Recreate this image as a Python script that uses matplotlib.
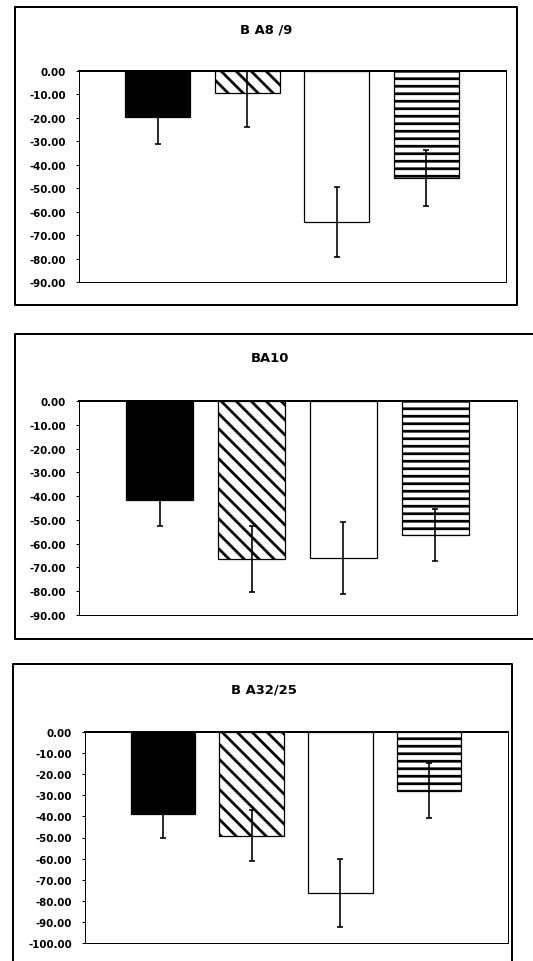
import matplotlib
matplotlib.use("Agg")
import matplotlib.pyplot as plt
from matplotlib.lines import Line2D

# dados (variação percentual por região)
titulos = ["B A8 /9", "BA10", "B A32/25"]
grupos = ["G1", "G2", "G3", "G4"]
ba8_9 = [-19.8, -9.4, -64.3, -45.6]
ba8_9_err = [11.4, 14.6, 15.0, 12.1]
ba10 = [-41.7, -66.5, -66.1, -56.3]
ba10_err = [10.8, 14.0, 15.1, 10.9]
ba32_25 = [-38.9, -49.1, -76.2, -27.9]
ba32_25_err = [11.5, 12.0, 16.0, 13.0]
y_min = [-90, -90, -100]

W, H = 533, 962
DPI = 90
plt.rcParams['hatch.linewidth'] = 2.2
plt.rcParams['font.family'] = ['DejaVu Sans']

fig = plt.figure(figsize=(W / DPI, H / DPI), dpi=DPI)
fig.patch.set_facecolor('white')


def caixa_px(l, t, r, b):
    return [l / W, 1 - b / H, (r - l) / W, (b - t) / H]


def linha_px(xs, ys, lw=1.6):
    fig.add_artist(Line2D([x / W for x in xs], [1 - y / H for y in ys],
                          color='black', lw=lw, transform=fig.transFigure))


# molduras dos painéis
linha_px([15, 517, 517, 15, 15], [8, 8, 306, 306, 8])
linha_px([533, 15, 15, 533], [335, 335, 640, 640])
linha_px([13, 13, 512, 512], [962, 665, 665, 962])

paineis = [
    (ba8_9, ba8_9_err, (79, 72, 506, 283), (266, 30)),
    (ba10, ba10_err, (79, 402, 517, 616), (270, 359)),
    (ba32_25, ba32_25_err, (85, 733, 508, 944), (264, 690)),
]

cores = ['black', 'white', 'white', 'white']
hachuras = [None, '\\\\', None, '--']
x = list(range(len(grupos)))

for k, (vals, errs, box, tpos) in enumerate(paineis):
    ax = fig.add_axes(caixa_px(*box))
    for i in x:
        ax.bar(i, vals[i], width=0.73, color=cores[i], edgecolor='black',
               linewidth=1.0, hatch=hachuras[i], zorder=2)
    ax.errorbar(x, vals, yerr=errs, fmt='none', ecolor='black',
                elinewidth=1.3, capsize=2.5, capthick=1.3, zorder=3)
    ax.set_xlim(-0.88, 3.89)
    ax.set_ylim(y_min[k], 0)
    ticks = list(range(0, y_min[k] - 1, -10))
    ax.set_yticks(ticks)
    ax.set_yticklabels([f"{t:.2f}" for t in ticks], fontsize=8.2,
                       fontweight='bold')
    ax.set_xticks([])
    ax.tick_params(axis='y', length=2.5, width=0.8, pad=8, direction='out')
    for lado in ['left', 'right', 'bottom']:
        ax.spines[lado].set_linewidth(0.8)
    ax.spines['top'].set_linewidth(1.6)
    fig.text(tpos[0] / W, 1 - tpos[1] / H, titulos[k], ha='center',
             va='center', fontsize=10.5, fontweight='bold')

fig.savefig('out.png', dpi=DPI)
